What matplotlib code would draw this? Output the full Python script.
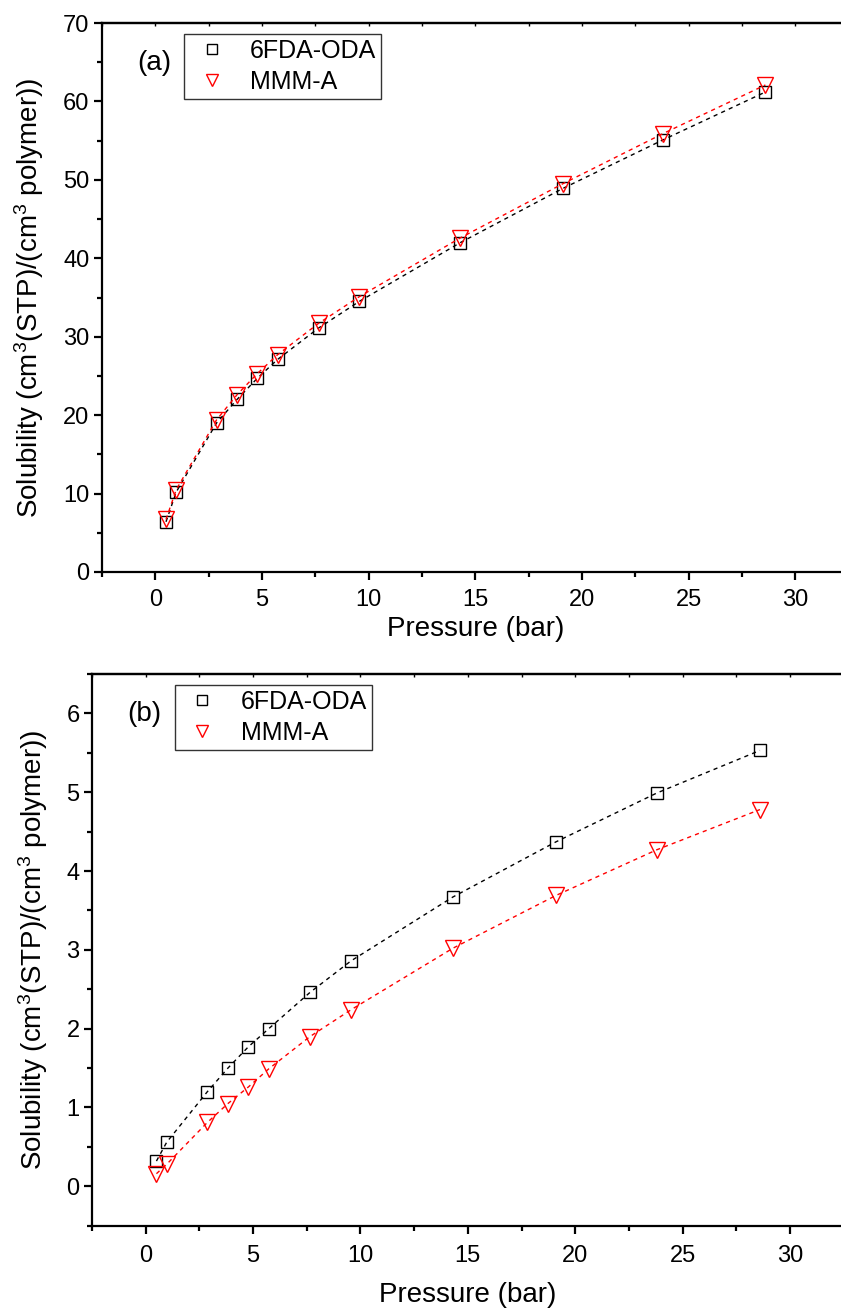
import matplotlib
matplotlib.use("Agg")
import matplotlib.pyplot as plt
from matplotlib.ticker import MultipleLocator, NullFormatter

plt.rcParams['font.family'] = ['Liberation Sans', 'DejaVu Sans']
plt.rcParams['mathtext.fontset'] = 'custom'
plt.rcParams['mathtext.rm'] = 'Liberation Sans'
plt.rcParams['mathtext.it'] = 'Liberation Sans:italic'

pressure = [0.5, 0.98, 2.87, 3.83, 4.78, 5.73, 7.65, 9.56, 14.3, 19.1, 23.8, 28.6]

# Panel (a)
a_6fda = [6.4, 10.2, 19.0, 22.0, 24.7, 27.1, 31.1, 34.5, 42.0, 48.9, 55.1, 61.2]
a_mmm = [6.7, 10.5, 19.4, 22.6, 25.3, 27.7, 31.7, 35.1, 42.6, 49.5, 55.9, 62.1]

# Panel (b)
b_6fda = [0.32, 0.56, 1.20, 1.50, 1.77, 2.00, 2.46, 2.86, 3.67, 4.37, 4.99, 5.53]
b_mmm = [0.16, 0.28, 0.81, 1.05, 1.26, 1.49, 1.90, 2.24, 3.02, 3.69, 4.27, 4.78]

series_labels = ["6FDA-ODA", "MMM-A"]
panel_tags = ["(a)", "(b)"]
xlabel = "Pressure (bar)"
ylabel = r"Solubility (cm$^{3}$(STP)/(cm$^{3}$ polymer))"

W, H = 841, 1314
fig = plt.figure(figsize=(W / 100, H / 100), dpi=100)

def px_axes(left, right, top, bottom):
    return [left / W, 1 - bottom / H, (right - left) / W, (bottom - top) / H]

ax_a = fig.add_axes(px_axes(102, 848.6, 23, 572))
ax_b = fig.add_axes(px_axes(92, 843.7, 674, 1225.7))

def style(ax, ylim, ymajor, yminor, tag, y1, y2, xpad, xlabelpad):
    ax.plot(pressure, y1, linestyle=(0, (3, 3)), color='black', lw=1.0,
            marker='s', ms=8.5, mfc='none', mec='black', mew=1.0)
    ax.plot(pressure, y2, linestyle=(0, (3, 3)), color='#ff0000', lw=1.0,
            marker='v', ms=11, mfc='none', mec='#ff0000', mew=1.0)
    ax.set_xlim(-2.5, 32.5)
    ax.set_ylim(*ylim)
    ax.xaxis.set_major_locator(MultipleLocator(5))
    ax.xaxis.set_minor_locator(MultipleLocator(2.5))
    ax.yaxis.set_major_locator(MultipleLocator(ymajor))
    ax.yaxis.set_minor_locator(MultipleLocator(yminor))
    for s in ax.spines.values():
        s.set_linewidth(1.6)
    ax.spines['right'].set_visible(False)
    ax.tick_params(which='major', direction='out', length=6, width=1.6,
                   labelsize=17, pad=3)
    ax.tick_params(which='minor', direction='out', length=3.5, width=1.6)
    ax.tick_params(axis='x', which='major', pad=xpad)
    top = ax.secondary_xaxis('top')
    top.xaxis.set_major_locator(MultipleLocator(2.5))
    top.xaxis.set_major_formatter(NullFormatter())
    top.tick_params(direction='in', length=2.5, width=1.0)
    top.spines['top'].set_linewidth(1.6)
    ax.set_xlabel(xlabel, fontsize=20, labelpad=xlabelpad)
    ax.set_ylabel(ylabel, fontsize=20, labelpad=12)
    ax.text(0.047, 0.927, tag, transform=ax.transAxes, fontsize=20,
            va='center', ha='left')
    leg = ax.legend([
        plt.Line2D([], [], linestyle='none', marker='s', ms=6.5, mfc='none', mec='black', mew=1.0),
        plt.Line2D([], [], linestyle='none', marker='v', ms=9, mfc='none', mec='#ff0000', mew=1.0)],
        series_labels, loc='upper left', bbox_to_anchor=(0.11, 0.98),
        fontsize=18, frameon=True, fancybox=False, edgecolor='black',
        borderpad=0.2, labelspacing=0.28, handletextpad=0.64, handlelength=1.8,
        borderaxespad=0)
    leg.get_frame().set_linewidth(1.0)

style(ax_a, (0, 70), 10, 5, panel_tags[0], a_6fda, a_mmm, 6, 4)
style(ax_b, (-0.5, 6.5), 1, 0.5, panel_tags[1], b_6fda, b_mmm, 8, 11)

fig.savefig("out.png", dpi=100)
